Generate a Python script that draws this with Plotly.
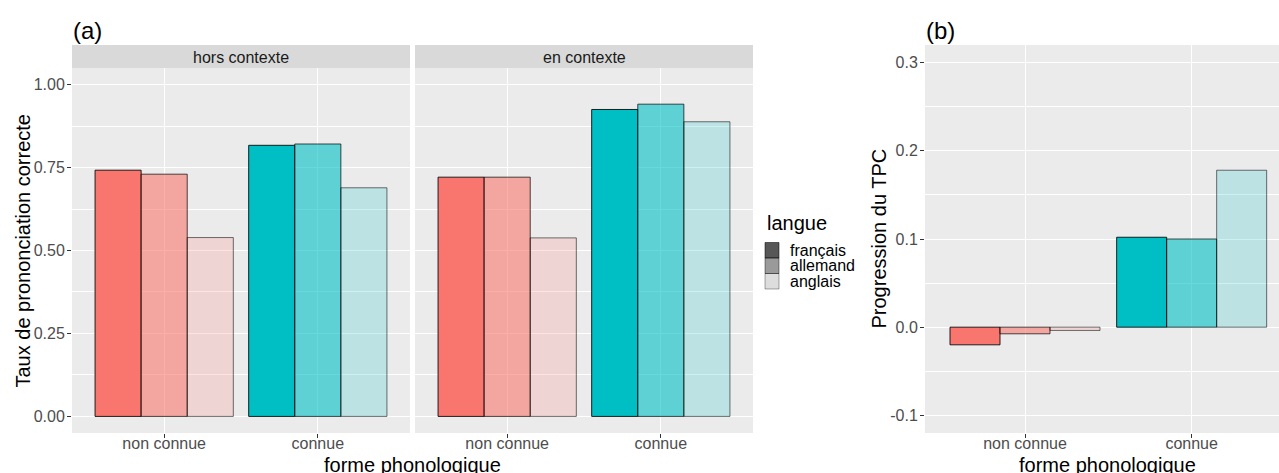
import plotly.graph_objects as go

# ---------------- data ----------------
categories = ["non connue", "connue"]
langues = ["français", "allemand", "anglais"]
facets = ["hors contexte", "en contexte"]

hc_francais = [0.742, 0.817]
hc_allemand = [0.730, 0.821]
hc_anglais = [0.539, 0.689]

ec_francais = [0.721, 0.925]
ec_allemand = [0.721, 0.941]
ec_anglais = [0.538, 0.888]

prog_francais = [-0.020, 0.102]
prog_allemand = [-0.0075, 0.100]
prog_anglais = [-0.0037, 0.178]

ticks_a_vals = [0, 0.25, 0.5, 0.75, 1.0]
ticks_a_text = ["0.00", "0.25", "0.50", "0.75", "1.00"]
ticks_b_vals = [-0.1, 0.0, 0.1, 0.2, 0.3]
ticks_b_text = ["-0.1", "0.0", "0.1", "0.2", "0.3"]

# ---------------- styles ----------------
W, H = 1279, 473
FONT = "Liberation Sans, Arial, Helvetica, sans-serif"
cat_rgb = [(248, 118, 109), (0, 191, 196)]
fill_alpha = [1.0, 0.6, 0.2]
line_alpha = [0.85, 0.7, 0.55]
key_rgb = (87, 87, 87)


def px_x(p):
    return p / W


def px_y(p):
    return 1 - p / H


def rgba(rgb, a):
    return "rgba(%d,%d,%d,%.3f)" % (rgb[0], rgb[1], rgb[2], a)


fig = go.Figure()

series_sets = [
    ("x", "y", [hc_francais, hc_allemand, hc_anglais]),
    ("x2", "y2", [ec_francais, ec_allemand, ec_anglais]),
    ("x3", "y3", [prog_francais, prog_allemand, prog_anglais]),
]

for xa, ya, sets in series_sets:
    for i, (lang, vals) in enumerate(zip(langues, sets)):
        fig.add_trace(go.Bar(
            x=categories, y=vals, name=lang, xaxis=xa, yaxis=ya,
            marker=dict(color=[rgba(c, fill_alpha[i]) for c in cat_rgb],
                        line=dict(color="rgba(0,0,0,%.2f)" % line_alpha[i], width=1)),
            showlegend=False, hoverinfo="x+y+name",
        ))

# domains in pixel units
dom_a1 = [px_x(72), px_x(410)]
dom_a2 = [px_x(415), px_x(753)]
dom_b = [px_x(925), 1.0]
ydom_a = [px_y(433), px_y(68)]
ydom_b = [px_y(433), px_y(45)]

tickfont = dict(family=FONT, size=16, color="#4d4d4d")
common_x = dict(type="category", categoryorder="array", categoryarray=categories,
                showgrid=True, gridcolor="white", gridwidth=1.1, ticks="outside",
                ticklen=4, tickcolor="#333333", tickwidth=1, tickfont=tickfont,
                ticklabelstandoff=-8,
                showline=False, zeroline=False, fixedrange=True)
common_y = dict(showgrid=True, gridcolor="white", gridwidth=1.1, zeroline=False,
                ticklen=4, tickcolor="#333333", tickwidth=1,
                tickfont=tickfont, showline=False, fixedrange=True)

fig.update_layout(
    width=W, height=H,
    margin=dict(l=0, r=0, t=0, b=0),
    paper_bgcolor="white", plot_bgcolor="#ebebeb",
    barmode="group", bargap=0.1, bargroupgap=0,
    showlegend=False,
    font=dict(family=FONT),
    xaxis=dict(domain=dom_a1, range=[-0.6, 1.6], anchor="y", **common_x),
    xaxis2=dict(domain=dom_a2, range=[-0.6, 1.6], anchor="y2", **common_x),
    xaxis3=dict(domain=dom_b, range=[-0.6, 1.524], anchor="y3", **common_x),
    yaxis=dict(domain=ydom_a, range=[-0.05, 1.05], anchor="x", ticks="outside",
               ticklabelstandoff=-1,
               tickvals=ticks_a_vals, ticktext=ticks_a_text,
               minor=dict(dtick=0.125, tick0=0, showgrid=True, gridcolor="white", gridwidth=0.55, ticks=""),
               **common_y),
    yaxis2=dict(domain=ydom_a, range=[-0.05, 1.05], anchor="x2", ticks="",
                tickvals=ticks_a_vals, ticktext=ticks_a_text, showticklabels=False,
                minor=dict(dtick=0.125, tick0=0, showgrid=True, gridcolor="white", gridwidth=0.55, ticks=""),
                **common_y),
    yaxis3=dict(domain=ydom_b, range=[-0.12, 0.32], anchor="x3", ticks="outside",
                ticklabelstandoff=-1,
                tickvals=ticks_b_vals, ticktext=ticks_b_text,
                minor=dict(dtick=0.05, tick0=0, showgrid=True, gridcolor="white", gridwidth=0.55, ticks=""),
                **common_y),
)

shapes = []
annotations = []

# facet strips
for (x0, x1), label in zip([(72, 410), (415, 753)], facets):
    shapes.append(dict(type="rect", xref="paper", yref="paper",
                       x0=px_x(x0), x1=px_x(x1), y0=px_y(68), y1=px_y(45),
                       fillcolor="#d9d9d9", line=dict(width=0), layer="below"))
    annotations.append(dict(text=label, xref="paper", yref="paper",
                            x=px_x((x0 + x1) / 2), y=px_y(57), xanchor="center", yanchor="middle",
                            showarrow=False, font=dict(family=FONT, size=16, color="#1a1a1a")))

# tags
annotations.append(dict(text="(a)", xref="paper", yref="paper", x=px_x(71), y=px_y(31),
                        xanchor="left", yanchor="middle", showarrow=False,
                        font=dict(family=FONT, size=24, color="black")))
annotations.append(dict(text="(b)", xref="paper", yref="paper", x=px_x(924), y=px_y(31),
                        xanchor="left", yanchor="middle", showarrow=False,
                        font=dict(family=FONT, size=24, color="black")))

# axis titles
annotations.append(dict(text="Taux de prononciation correcte", xref="paper", yref="paper",
                        x=px_x(22), y=px_y(250.5), textangle=-90, xanchor="center", yanchor="middle",
                        showarrow=False, font=dict(family=FONT, size=20, color="black")))
annotations.append(dict(text="Progression du TPC", xref="paper", yref="paper",
                        x=px_x(878.5), y=px_y(239), textangle=-90, xanchor="center", yanchor="middle",
                        showarrow=False, font=dict(family=FONT, size=20, color="black")))
for cx in (412.5, 1107.5):
    annotations.append(dict(text="forme phonologique", xref="paper", yref="paper",
                            x=px_x(cx), y=px_y(465), xanchor="center", yanchor="middle",
                            showarrow=False, font=dict(family=FONT, size=20, color="black")))

# legend (manual)
annotations.append(dict(text="langue", xref="paper", yref="paper", x=px_x(765), y=px_y(223),
                        xanchor="left", yanchor="middle", showarrow=False,
                        font=dict(family=FONT, size=20, color="black")))
key_top = 242.5
key_h = 15.5
for i, lang in enumerate(langues):
    y0 = key_top + i * key_h
    shapes.append(dict(type="rect", xref="paper", yref="paper",
                       x0=px_x(765), x1=px_x(779), y0=px_y(y0 + key_h), y1=px_y(y0),
                       fillcolor=rgba(key_rgb, fill_alpha[i]),
                       line=dict(color="rgba(0,0,0,%.2f)" % (line_alpha[i] * 0.6), width=1)))
    annotations.append(dict(text=lang, xref="paper", yref="paper", x=px_x(788), y=px_y(y0 + key_h / 2),
                            xanchor="left", yanchor="middle", showarrow=False,
                            font=dict(family=FONT, size=16, color="black")))

fig.update_layout(shapes=shapes, annotations=annotations)

fig.write_html("out.html", config={"displayModeBar": False},
               post_script="document.body.style.margin='0px';document.body.style.overflow='hidden';")
